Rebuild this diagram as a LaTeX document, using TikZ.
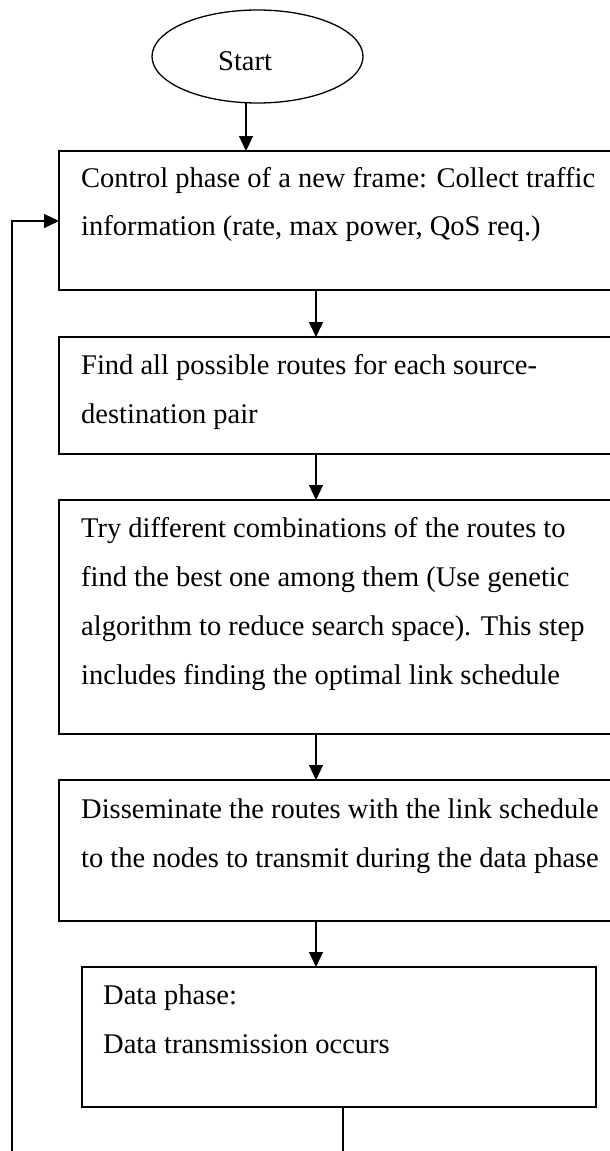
\documentclass[tikz,border=0pt]{standalone}
\usepackage{fontspec}
\setmainfont[Ligatures=NoCommon]{Liberation Serif}
\usetikzlibrary{arrows.meta,shapes.geometric}
\begin{document}
\begin{tikzpicture}[x=1pt,y=-1pt,
  box/.style={draw=black,line width=1.8pt,rectangle,inner sep=0pt,outer sep=0pt},
  oval/.style={draw=black,line width=1.3pt,ellipse,inner sep=0pt,outer sep=0pt,minimum width=211pt,minimum height=93pt},
  txt/.style={anchor=base west,inner sep=0pt,font=\fontsize{28.5}{34}\selectfont},
  arr/.style={line width=1.3pt,-{Triangle[width=14pt,length=15pt]}},
  ln/.style={line width=1.3pt}]
\useasboundingbox (0,0) rectangle (610,1151);
% nodes
\node[oval] (e) at (257.5,56.5) {};
\node[txt] (st) at (218,70) {Start};
\node[box,minimum width=556pt,minimum height=139pt] (b1) at (337,220.5) {};
\node[box,minimum width=556pt,minimum height=117pt] (b2) at (337,395.5) {};
\node[box,minimum width=556pt,minimum height=234pt] (b3) at (337,617) {};
\node[box,minimum width=556pt,minimum height=141pt] (b4) at (337,850.5) {};
\node[box,minimum width=514pt,minimum height=140pt] (b5) at (339,1037) {};
% texts
\node[txt] (t1a) at (81,187) {Control phase of a new frame: Collect traffic};
\node[txt] (t1b) at (81,235.5) {information (rate, max power, QoS req.)};
\node[txt] (t2a) at (81,374) {Find all possible routes for each source-};
\node[txt] (t2b) at (81,423) {destination pair};
\node[txt] (t3a) at (81,537) {Try different combinations of the routes to};
\node[txt] (t3b) at (81,586.5) {find the best one among them (Use genetic};
\node[txt] (t3c) at (81,635.5) {algorithm to reduce search space). This step};
\node[txt] (t3d) at (81,684) {includes finding the optimal link schedule};
\node[txt] (t4a) at (81,818) {Disseminate the routes with the link schedule};
\node[txt] (t4b) at (81,867) {to the nodes to transmit during the data phase};
\node[txt] (t5a) at (103,1004) {Data phase:};
\node[txt] (t5b) at (103,1053) {Data transmission occurs};
% helper coordinates
\coordinate (ax0) at (246,0);
\coordinate (ax) at (316,0);
\coordinate (ax5) at (343,0);
\coordinate (bot5) at (343,1152);
\coordinate (botL) at (12,1152);
\coordinate (turn) at (12,221);
% connectors
\draw[arr] (e.south -| ax0) -- (b1.north -| ax0);
\draw[arr] (b1.south -| ax) -- (b2.north -| ax);
\draw[arr] (b2.south -| ax) -- (b3.north -| ax);
\draw[arr] (b3.south -| ax) -- (b4.north -| ax);
\draw[arr] (b4.south -| ax) -- (b5.north -| ax);
\draw[ln] (b5.south -| ax5) -- (bot5);
\draw[arr] (botL) -- (turn) -- (b1.west |- turn);
\end{tikzpicture}
\end{document}
